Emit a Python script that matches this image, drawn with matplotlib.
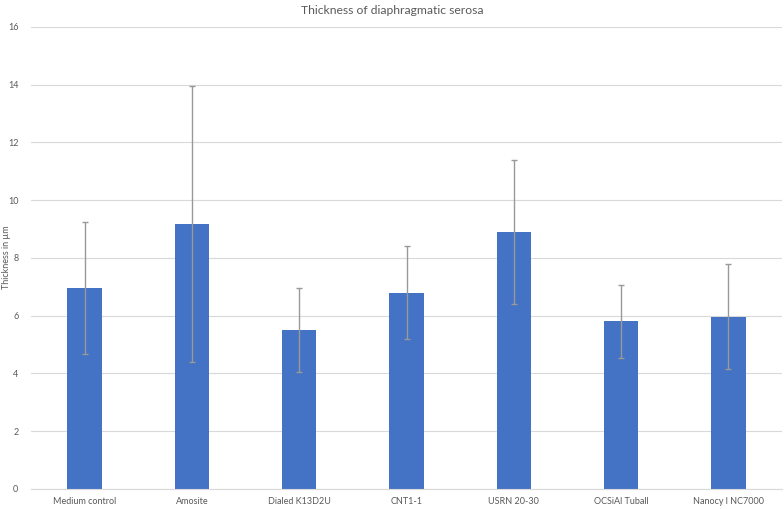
import numpy as np
import matplotlib.pyplot as plt

plt.rcParams["font.family"] = ["Lato", "DejaVu Sans"]

groups = ["Medium control", "Amosite", "Dialed K13D2U", "CNT1-1",
          "USRN 20-30", "OCSiAl Tuball", "Nanocyl NC7000"]
tick_labels = ["Medium control", "Amosite", "Dialed K13D2U", "CNT1-1",
               "USRN 20-30", "OCSiAl Tuball", "Nanocy l NC7000"]
thickness = [6.97, 9.16, 5.51, 6.80, 8.90, 5.80, 5.97]
sd = [2.28, 4.78, 1.46, 1.60, 2.48, 1.25, 1.82]

fig = plt.figure(figsize=(7.84, 5.09), dpi=100)
ax = fig.add_axes([0.0395, 0.0393, 0.958, 0.908])

x = np.arange(len(groups))
ax.bar(x, thickness, width=0.32, color="#4472C4", zorder=2)
ax.errorbar(x, thickness, yerr=sd, fmt="none", ecolor="#999999",
            elinewidth=1.0, capsize=2.5, capthick=1.0, zorder=3)

ax.set_xlim(-0.5, len(groups) - 0.5)
ax.set_ylim(0, 16)
ax.set_yticks(np.arange(0, 17, 2))
ax.set_xticks(x)
ax.set_xticklabels(tick_labels)
ax.tick_params(axis="both", length=0, labelsize=6.5, labelcolor="#595959")
ax.tick_params(axis="x", pad=6)
ax.tick_params(axis="y", pad=9)

ax.grid(axis="y", color="#d9d9d9", linewidth=0.8, zorder=0)
for side in ["top", "right", "left"]:
    ax.spines[side].set_visible(False)
ax.spines["bottom"].set_color("#d9d9d9")

fig.text(7 / 784, 1 - 257 / 509, "Thickness in µm", fontsize=6.5, color="#595959",
         rotation=90, ha="center", va="center")
fig.text(0.5, 1 - 10 / 509, "Thickness of diaphragmatic serosa", fontsize=8.7,
         color="#595959", ha="center", va="center")

fig.savefig("out.png", dpi=100)
